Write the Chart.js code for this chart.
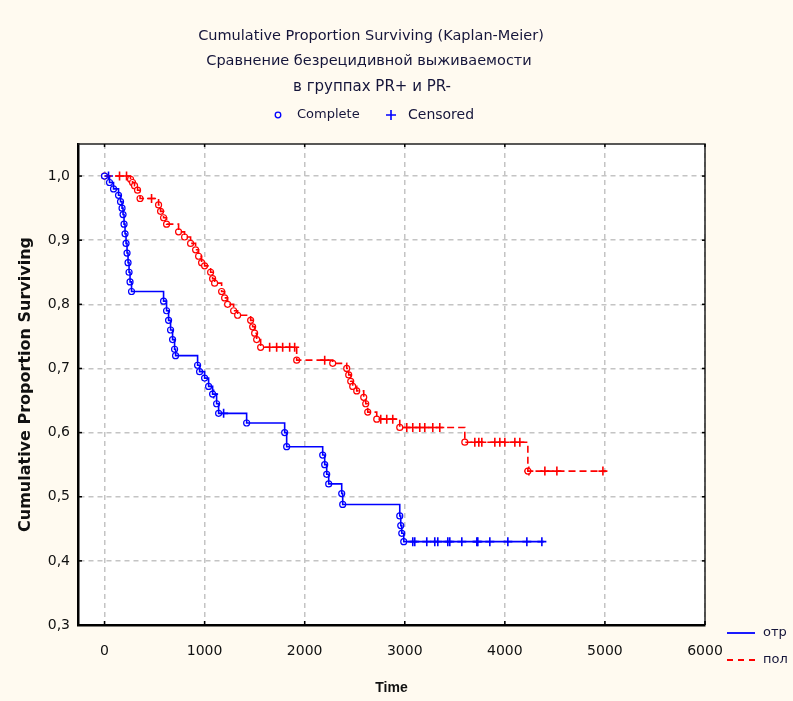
<!DOCTYPE html>
<html>
<head>
<meta charset="utf-8">
<script src="https://cdn.jsdelivr.net/npm/chart.js@4.4.1/dist/chart.umd.min.js"></script>
<style>
  html, body { margin: 0; padding: 0; background: #fffaf0; }
  canvas { display: block; }
</style>
</head>
<body>
<canvas id="km" width="793" height="701"></canvas>
<script>
// titles and labels
const titleLines = ['Cumulative Proportion Surviving (Kaplan-Meier)', 'Сравнение безрецидивной выживаемости', 'в группах PR+ и PR-'];
const markerNames = ['Complete', 'Censored'];
const groupNames = ['отр', 'пол'];
const xTitle = 'Time';
const yTitle = 'Cumulative Proportion Surviving';
const xTicks = [0, 1000, 2000, 3000, 4000, 5000, 6000];
const yTicks = [0.3, 0.4, 0.5, 0.6, 0.7, 0.8, 0.9, 1.0];

// group "отр": event times and survival after each event
const otrTime = [0, 50, 90, 140, 160, 175, 185, 195, 205, 215, 225, 235, 245, 255, 270, 590, 620, 640, 660, 680, 700, 710, 930, 950, 1000, 1040, 1080, 1120, 1140, 1420, 1800, 1820, 2180, 2200, 2220, 2240, 2370, 2380, 2950, 2960, 2970, 2990];
const otrSurv = [1.0, 0.99, 0.98, 0.97, 0.96, 0.95, 0.94, 0.925, 0.91, 0.895, 0.88, 0.865, 0.85, 0.835, 0.82, 0.805, 0.79, 0.775, 0.76, 0.745, 0.73, 0.72, 0.705, 0.695, 0.685, 0.672, 0.66, 0.645, 0.63, 0.615, 0.6, 0.578, 0.565, 0.55, 0.535, 0.52, 0.505, 0.488, 0.47, 0.455, 0.443, 0.43];
const otrCensored = [40, 1090, 1190, 3080, 3100, 3220, 3300, 3330, 3430, 3450, 3570, 3720, 3730, 3850, 4030, 4220, 4370];
const otrEnd = 4390;

// group "пол"
const polTime = [0, 260, 280, 300, 330, 355, 540, 560, 590, 620, 740, 800, 860, 910, 940, 970, 1000, 1060, 1080, 1100, 1170, 1200, 1230, 1290, 1330, 1460, 1480, 1500, 1520, 1560, 1920, 2280, 2420, 2440, 2460, 2480, 2520, 2590, 2610, 2630, 2720, 2950, 3600, 4230];
const polSurv = [1.0, 0.995, 0.99, 0.985, 0.978, 0.965, 0.955, 0.945, 0.935, 0.925, 0.913, 0.905, 0.895, 0.885, 0.875, 0.865, 0.86, 0.85, 0.84, 0.833, 0.82, 0.81, 0.8, 0.79, 0.783, 0.775, 0.765, 0.755, 0.745, 0.733, 0.713, 0.708, 0.7, 0.69, 0.68, 0.672, 0.665, 0.655, 0.645, 0.632, 0.621, 0.608, 0.585, 0.54];
const polCensored = [150, 220, 470, 1650, 1720, 1780, 1850, 1900, 2200, 2760, 2820, 2880, 3020, 3080, 3150, 3200, 3280, 3350, 3700, 3740, 3770, 3900, 3950, 4000, 4100, 4150, 4240, 4400, 4520, 4980];
const polEnd = 5010;

const BLUE = '#0000ff';
const RED = '#ff0000';
const TEXT = '#15153a';

function survAt(times, surv, t) {
  let s = surv[0];
  for (let i = 0; i < times.length; i++) {
    if (times[i] <= t) s = surv[i];
  }
  return s;
}

function curve(times, surv, end) {
  const pts = times.map((t, i) => ({ x: t, y: surv[i] }));
  pts.push({ x: end, y: surv[surv.length - 1] });
  return pts;
}

function events(times, surv) {
  return times.map((t, i) => ({ x: t, y: surv[i] }));
}

function censored(list, times, surv) {
  return list.map(t => ({ x: t, y: survAt(times, surv, t) }));
}

const decor = {
  id: 'decor',
  beforeDraw(chart) {
    const c = chart.ctx, a = chart.chartArea;
    c.save();
    c.fillStyle = '#fffaf0';
    c.fillRect(0, 0, chart.width, chart.height);
    c.fillStyle = '#ffffff';
    c.fillRect(a.left, a.top, a.right - a.left, a.bottom - a.top);
    c.restore();
  },
  afterDraw(chart) {
    const c = chart.ctx, a = chart.chartArea;
    const xs = chart.scales.x, ys = chart.scales.y;
    c.save();
    // frame top and right
    c.strokeStyle = '#222';
    c.lineWidth = 1.5;
    c.beginPath();
    c.moveTo(a.left, a.top); c.lineTo(a.right, a.top); c.lineTo(a.right, a.bottom);
    c.stroke();
    // short inner tick marks
    c.strokeStyle = '#000';
    c.lineWidth = 1.5;
    xTicks.forEach(v => {
      const px = xs.getPixelForValue(v);
      c.beginPath(); c.moveTo(px, a.bottom); c.lineTo(px, a.bottom - 4); c.stroke();
      c.beginPath(); c.moveTo(px, a.top); c.lineTo(px, a.top + 3); c.stroke();
    });
    yTicks.forEach(v => {
      const py = ys.getPixelForValue(v);
      c.beginPath(); c.moveTo(a.left, py); c.lineTo(a.left + 4, py); c.stroke();
      c.beginPath(); c.moveTo(a.right, py); c.lineTo(a.right - 3, py); c.stroke();
    });

    // titles
    c.fillStyle = TEXT;
    c.textAlign = 'center';
    c.textBaseline = 'middle';
    c.font = '14.5px "DejaVu Sans"';
    c.fillText(titleLines[0], 371, 36);
    c.fillText(titleLines[1], 369, 61);
    c.font = '15px "DejaVu Sans"';
    c.fillText(titleLines[2], 372, 87);

    // marker legend
    c.textAlign = 'left';
    c.font = '13px "DejaVu Sans"';
    c.strokeStyle = BLUE;
    c.lineWidth = 1.3;
    c.beginPath(); c.arc(278, 115, 2.8, 0, Math.PI * 2); c.stroke();
    c.fillText(markerNames[0], 297, 115);
    c.lineWidth = 1.6;
    c.beginPath();
    c.moveTo(386, 115); c.lineTo(396, 115);
    c.moveTo(391, 110); c.lineTo(391, 120);
    c.stroke();
    c.font = '14px "DejaVu Sans"';
    c.fillText(markerNames[1], 408, 115);

    // group legend, bottom right
    c.font = '13px "DejaVu Sans"';
    c.strokeStyle = BLUE;
    c.lineWidth = 1.8;
    c.beginPath(); c.moveTo(727, 633); c.lineTo(755, 633); c.stroke();
    c.fillText(groupNames[0], 763, 633);
    c.strokeStyle = RED;
    c.lineWidth = 2.2;
    c.setLineDash([6, 5]);
    c.beginPath(); c.moveTo(727, 660); c.lineTo(757, 660); c.stroke();
    c.setLineDash([]);
    c.fillText(groupNames[1], 763, 660);
    c.restore();
  }
};

const ctx = document.getElementById('km').getContext('2d');

const chartData = {
  datasets: [
    {
      label: groupNames[0],
      data: curve(otrTime, otrSurv, otrEnd),
      showLine: true,
      stepped: true,
      borderColor: BLUE,
      borderWidth: 1.6,
      pointRadius: 0
    },
    {
      label: groupNames[1],
      data: curve(polTime, polSurv, polEnd),
      showLine: true,
      stepped: true,
      borderColor: RED,
      borderWidth: 1.6,
      borderDash: [7, 4],
      pointRadius: 0
    },
    {
      label: groupNames[0] + ' ' + markerNames[0],
      data: events(otrTime, otrSurv),
      pointStyle: 'circle',
      pointRadius: 3,
      pointBorderWidth: 1.2,
      pointBorderColor: BLUE,
      pointBackgroundColor: '#ffffff'
    },
    {
      label: groupNames[0] + ' ' + markerNames[1],
      data: censored(otrCensored, otrTime, otrSurv),
      pointStyle: 'cross',
      pointRadius: 4.5,
      pointBorderWidth: 1.6,
      pointBorderColor: BLUE
    },
    {
      label: groupNames[1] + ' ' + markerNames[0],
      data: events(polTime, polSurv),
      pointStyle: 'circle',
      pointRadius: 3,
      pointBorderWidth: 1.2,
      pointBorderColor: RED,
      pointBackgroundColor: '#ffffff'
    },
    {
      label: groupNames[1] + ' ' + markerNames[1],
      data: censored(polCensored, polTime, polSurv),
      pointStyle: 'cross',
      pointRadius: 4.5,
      pointBorderWidth: 1.6,
      pointBorderColor: RED
    }
  ]
};

const config = {
  type: 'scatter',
  data: chartData,
  options: {
    responsive: false,
    devicePixelRatio: 1,
    animation: false,
    layout: { padding: { left: 0, right: 88, top: 144, bottom: 0 } },
    scales: {
      x: {
        type: 'linear',
        min: -265,
        max: 6000,
        afterBuildTicks: s => { s.ticks = xTicks.map(v => ({ value: v })); },
        afterFit: s => { s.height = 76; },
        ticks: {
          color: '#111',
          font: { family: 'DejaVu Sans', size: 14 },
          padding: 18,
          maxRotation: 0,
          callback: v => String(v)
        },
        grid: { color: '#c4c4c4', lineWidth: 1.5, drawTicks: false },
        border: { display: true, color: '#000', width: 2.5, dash: [5, 4] },
        title: {
          display: true,
          text: xTitle,
          color: '#111',
          font: { family: 'Liberation Sans', size: 14, weight: 'bold' },
          padding: { top: 0, bottom: 4 }
        }
      },
      y: {
        min: 0.3,
        max: 1.05,
        afterBuildTicks: s => { s.ticks = yTicks.map(v => ({ value: v })); },
        afterFit: s => { s.width = 78; },
        ticks: {
          color: '#111',
          font: { family: 'DejaVu Sans', size: 14 },
          padding: 8,
          callback: v => v.toFixed(1).replace('.', ',')
        },
        grid: { color: '#c4c4c4', lineWidth: 1.5, drawTicks: false },
        border: { display: true, color: '#000', width: 2.5, dash: [5, 4] },
        title: {
          display: true,
          text: yTitle,
          color: '#111',
          font: { family: 'DejaVu Sans', size: 16, weight: 'bold' },
          padding: { top: 16, bottom: 0 }
        }
      }
    },
    plugins: {
      legend: { display: false },
      tooltip: { enabled: false }
    }
  },
  plugins: [decor]
};

const kmChart = new Chart(ctx, config);
</script>
</body>
</html>
